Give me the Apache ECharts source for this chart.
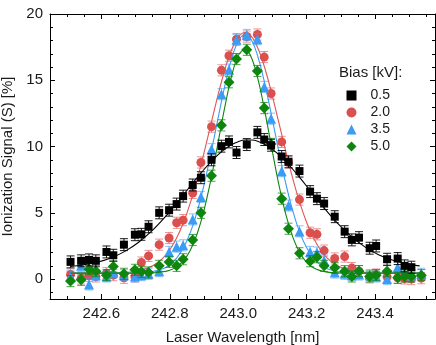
<!DOCTYPE html>
<html><head><meta charset="utf-8">
<script src="https://cdn.jsdelivr.net/npm/echarts@6/dist/echarts.min.js"></script>
<style>html,body{margin:0;padding:0;background:#fff}#c{width:436px;height:345px}</style>
</head><body><div id="c"></div>
<script>
// Measured wavelengths (nm)
const WAVELENGTH = [242.510, 242.541, 242.564, 242.584, 242.615, 242.635, 242.666, 242.698, 242.717, 242.738,
  242.769, 242.798, 242.820, 242.839, 242.867, 242.891, 242.922, 242.951, 242.973, 242.995,
  243.025, 243.056, 243.076, 243.096, 243.127, 243.147, 243.179, 243.210, 243.230, 243.251,
  243.282, 243.311, 243.332, 243.353, 243.384, 243.403, 243.435, 243.466, 243.486, 243.506, 243.535];

// Ionization signal (%) per bias voltage
const BIAS_05 = [1.30, 1.38, 1.45, 1.38, 2.05, 1.80, 2.60, 3.35, 3.38, 3.95,
  5.00, 5.20, 5.66, 6.26, 7.10, 7.65, 9.00, 10.03, 10.35, 9.55,
  10.15, 11.07, 10.53, 10.10, 9.25, 8.85, 8.15, 6.60, 6.07, 5.70,
  4.71, 3.58, 2.96, 3.13, 2.33, 2.50, 1.50, 1.55, 1.00, 0.90, null];
const BIAS_20 = [0.35, 0.05, 0.25, 0.20, 0.45, 0.30, 0.10, 0.20, 1.25, 1.75,
  2.60, 3.10, 4.25, 4.45, 6.50, 8.80, 11.50, 15.75, 16.85, 18.10,
  18.30, 18.45, 16.75, 14.00, 10.35, 8.80, 6.00, 3.50, 3.38, 2.15,
  1.56, 1.70, 0.83, 0.60, 0.13, 0.35, 0.17, 0.10, 0.05, 0.00, 0.07];
const BIAS_35 = [0.20, 1.00, -0.40, 0.30, 0.20, 0.50, 0.30, 0.20, 0.30, 0.40,
  0.60, 2.05, 2.45, 2.55, 4.50, 6.20, 9.80, 13.95, 15.80, 18.05,
  18.42, 18.10, 14.50, 12.10, 8.14, 5.55, 3.60, 2.05, 2.00, 1.40,
  0.50, 0.40, 0.30, 0.35, 0.30, 0.20, 0.00, 0.90, 0.50, 0.30, 0.40];
const BIAS_50 = [-0.15, -0.05, 0.75, 0.60, 0.30, 0.95, 0.40, 0.70, 0.55, 0.50,
  1.00, 1.30, 1.00, 1.50, 2.95, 5.00, 7.80, 11.60, 14.85, 16.60,
  17.30, 15.70, 12.90, 10.20, 6.07, 3.80, 1.95, 1.35, 1.65, 1.00,
  0.85, 0.60, 0.20, 0.60, 0.20, 0.30, 0.60, 0.10, 0.20, 0.20, 0.30];

// Error bar half-heights (%)
const ERR_05 = 0.45, ERR_20 = 0.42, ERR_35 = 0.42, ERR_50 = 0.42;

// Fitted curves
const FIT_X = [242.51, 242.55, 242.59, 242.63, 242.67, 242.71, 242.75, 242.78, 242.80, 242.82,
  242.84, 242.86, 242.88, 242.90, 242.92, 242.94, 242.96, 242.98, 243.00, 243.02,
  243.04, 243.06, 243.08, 243.10, 243.12, 243.14, 243.16, 243.18, 243.20, 243.22,
  243.24, 243.26, 243.29, 243.33, 243.37, 243.41, 243.45, 243.49, 243.53];
const FIT_05 = [0.95, 1.08, 1.29, 1.62, 2.11, 2.80, 3.69, 4.50, 5.09, 5.71,
  6.36, 7.01, 7.65, 8.27, 8.85, 9.36, 9.79, 10.13, 10.37, 10.49,
  10.49, 10.37, 10.13, 9.79, 9.36, 8.85, 8.27, 7.65, 7.01, 6.36,
  5.71, 5.09, 4.22, 3.22, 2.43, 1.84, 1.44, 1.17, 1.00];
const FIT_20 = [0.45, 0.45, 0.45, 0.46, 0.50, 0.63, 1.00, 1.59, 2.22, 3.10,
  4.27, 5.75, 7.52, 9.53, 11.67, 13.79, 15.72, 17.26, 18.26, 18.60,
  18.26, 17.26, 15.72, 13.79, 11.67, 9.53, 7.52, 5.75, 4.27, 3.10,
  2.22, 1.59, 1.00, 0.63, 0.50, 0.46, 0.45, 0.45, 0.45];
const FIT_35 = [0.45, 0.45, 0.45, 0.45, 0.45, 0.47, 0.57, 0.78, 1.08, 1.58,
  2.36, 3.51, 5.09, 7.10, 9.46, 12.01, 14.48, 16.56, 17.96, 18.45,
  17.96, 16.56, 14.48, 12.01, 9.46, 7.10, 5.09, 3.51, 2.36, 1.58,
  1.08, 0.78, 0.57, 0.47, 0.45, 0.45, 0.45, 0.45, 0.45];
const FIT_50 = [0.45, 0.45, 0.45, 0.45, 0.45, 0.45, 0.47, 0.55, 0.67, 0.92,
  1.39, 2.18, 3.42, 5.19, 7.48, 10.15, 12.88, 15.26, 16.86, 17.35,
  16.62, 14.84, 12.35, 9.60, 6.98, 4.79, 3.13, 1.99, 1.27, 0.86,
  0.64, 0.53, 0.47, 0.45, 0.45, 0.45, 0.45, 0.45, 0.45];

const BIAS_NAMES = ['0.5', '2.0', '3.5', '5.0'];

// Axis ticks and labels
const X_MAJOR = [242.6, 242.8, 243.0, 243.2, 243.4];
const X_MINOR = [242.45, 242.5, 242.55, 242.65, 242.7, 242.75, 242.85, 242.9, 242.95,
  243.05, 243.1, 243.15, 243.25, 243.3, 243.35, 243.45, 243.5, 243.55];
const Y_MAJOR = [0, 5, 10, 15, 20];
const Y_MINOR = [-1, 1, 2, 3, 4, 6, 7, 8, 9, 11, 12, 13, 14, 16, 17, 18, 19];

const X_MIN = 242.45, X_MAX = 243.575, Y_MIN = -1.5, Y_MAX = 20;

const FONT = 'Liberation Sans, Arial, sans-serif';
const TXT = '#1a1a1a';

const STYLE = [
  { name: BIAS_NAMES[0], vals: BIAS_05, fit: FIT_05, err: ERR_05, symbol: 'rect', size: 8, color: '#000000', errColor: 'rgba(0,0,0,0.9)', lineColor: '#000000' },
  { name: BIAS_NAMES[1], vals: BIAS_20, fit: FIT_20, err: ERR_20, symbol: 'circle', size: 9, color: '#dc4f4f', errColor: 'rgba(220,79,79,0.6)', lineColor: '#e05555' },
  { name: BIAS_NAMES[2], vals: BIAS_35, fit: FIT_35, err: ERR_35, symbol: 'triangle', size: 10, color: '#3a9cf5', errColor: 'rgba(58,156,245,0.6)', lineColor: '#3a9cf5' },
  { name: BIAS_NAMES[3], vals: BIAS_50, fit: FIT_50, err: ERR_50, symbol: 'diamond', size: 11, color: '#0e860e', errColor: 'rgba(14,134,14,0.75)', lineColor: '#0e860e' }
];
// drawing order: red, blue, green, black on top
const ORDER = [1, 2, 3, 0];

function errRender(err, color) {
  return function (params, api) {
    const x = api.value(0), y = api.value(1);
    const t = api.coord([x, y + err]), b = api.coord([x, y - err]);
    const hw = 4;
    const st = { stroke: color, lineWidth: 1 };
    return { type: 'group', children: [
      { type: 'line', shape: { x1: t[0], y1: t[1], x2: b[0], y2: b[1] }, style: st },
      { type: 'line', shape: { x1: t[0] - hw, y1: t[1], x2: t[0] + hw, y2: t[1] }, style: st },
      { type: 'line', shape: { x1: b[0] - hw, y1: b[1], x2: b[0] + hw, y2: b[1] }, style: st }
    ]};
  };
}

const series = [];
ORDER.forEach(function (k, oi) {
  const s = STYLE[k];
  const pts = [];
  WAVELENGTH.forEach(function (x, i) { if (s.vals[i] !== null) pts.push([x, s.vals[i]]); });
  const fitPts = FIT_X.map(function (x, i) { return [x, s.fit[i]]; });
  series.push({ type: 'custom', name: 'err ' + s.name, data: pts, renderItem: errRender(s.err, s.errColor), z: 2 + oi * 3, silent: true, clip: true });
  series.push({ type: 'line', name: 'fit ' + s.name, data: fitPts, smooth: 0.35, showSymbol: false, symbol: 'none', lineStyle: { color: s.lineColor, width: 1.1 }, z: 3 + oi * 3, silent: true, clip: true });
  series.push({ type: 'scatter', name: s.name, data: pts, symbol: s.symbol, symbolSize: s.size, itemStyle: { color: s.color, opacity: 1 }, z: 4 + oi * 3, clip: true });
});

function xAxisDef(pos, major) {
  return {
    type: 'value', position: pos, min: X_MIN, max: X_MAX,
    axisLine: { show: major, onZero: false, lineStyle: { color: '#000', width: 1 } },
    axisTick: { show: true, inside: true, length: major ? 5 : 3, customValues: major ? X_MAJOR : X_MINOR, lineStyle: { color: '#000', width: 1 } },
    axisLabel: (major && pos === 'bottom') ? { show: true, customValues: X_MAJOR, formatter: function (v) { return v.toFixed(1); }, fontSize: 15, fontFamily: FONT, color: TXT, margin: 7 } : { show: false },
    splitLine: { show: false },
    name: (major && pos === 'bottom') ? 'Laser Wavelength [nm]' : '',
    nameLocation: 'middle', nameGap: 31,
    nameTextStyle: { fontSize: 15, fontFamily: FONT, color: TXT }
  };
}
function yAxisDef(pos, major) {
  return {
    type: 'value', position: pos, min: Y_MIN, max: Y_MAX,
    axisLine: { show: major, onZero: false, lineStyle: { color: '#000', width: 1 } },
    axisTick: { show: true, inside: true, length: major ? 5 : 3, customValues: major ? Y_MAJOR : Y_MINOR, lineStyle: { color: '#000', width: 1 } },
    axisLabel: (major && pos === 'left') ? { show: true, customValues: Y_MAJOR, fontSize: 15, fontFamily: FONT, color: TXT, margin: 7 } : { show: false },
    splitLine: { show: false },
    name: (major && pos === 'left') ? 'Ionization Signal (S) [%]' : '',
    nameLocation: 'middle', nameGap: 22, nameRotate: 90,
    nameTextStyle: { fontSize: 15, fontFamily: FONT, color: TXT }
  };
}

const option = {
  animation: false,
  backgroundColor: '#ffffff',
  grid: { left: 50, right: 1, top: 14, bottom: 46, containLabel: false, outerBoundsMode: 'none' },
  title: { text: 'Bias [kV]:', left: 339, top: 65, padding: 0, textStyle: { fontSize: 15, fontWeight: 'normal', fontFamily: FONT, color: TXT } },
  legend: {
    data: BIAS_NAMES, orient: 'vertical', left: 346.5, top: 88.5, padding: 0,
    itemWidth: 10, itemHeight: 10, itemGap: 3,
    textStyle: { fontSize: 14, fontFamily: FONT, color: TXT, padding: [0, 0, 0, 9] },
    selectedMode: false
  },
  xAxis: [xAxisDef('bottom', true), xAxisDef('bottom', false), xAxisDef('top', true), xAxisDef('top', false)],
  yAxis: [yAxisDef('left', true), yAxisDef('left', false), yAxisDef('right', true), yAxisDef('right', false)],
  series: series
};

const chart = echarts.init(document.getElementById('c'), null, { renderer: 'canvas' });
chart.setOption(option);
</script>
</body></html>
